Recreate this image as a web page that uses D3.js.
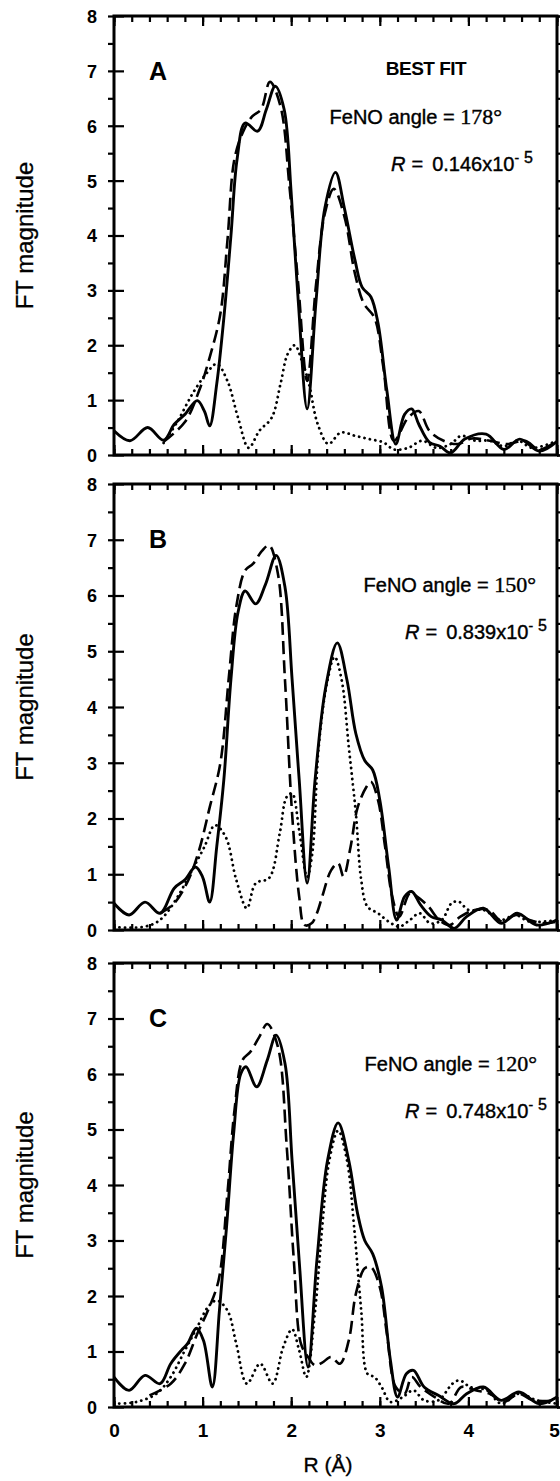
<!DOCTYPE html>
<html>
<head>
<meta charset="utf-8">
<script src="https://cdn.jsdelivr.net/npm/d3@7"></script>
<style>
  body { margin: 0; background: #fff; }
  svg text { font-family: "Liberation Sans", Arial, Helvetica, sans-serif; fill: #000; }
</style>
</head>
<body>
<svg id="chart"></svg>
<script>
// ---- Data: [R (Å), FT magnitude] ----
// Panel A (best fit, FeNO 178°)
const solidA = [[0,0.44],[0.18,0.26],[0.38,0.5],[0.56,0.27],[0.68,0.56],[0.8,0.74],[0.94,0.99],[1.02,0.8],[1.08,0.53],[1.16,1.3],[1.24,2.5],[1.32,4.0],[1.39,5.4],[1.48,6.05],[1.62,5.9],[1.72,6.3],[1.82,6.72],[1.92,6.3],[2.0,4.77],[2.08,2.8],[2.18,0.84],[2.28,2.8],[2.38,4.5],[2.5,5.15],[2.6,4.5],[2.72,3.55],[2.8,3.06],[2.9,2.88],[2.98,2.4],[3.08,1.17],[3.18,0.2],[3.28,0.74],[3.36,0.84],[3.44,0.56],[3.56,0.23],[3.68,0.16],[3.8,0.04],[3.96,0.29],[4.2,0.38],[4.4,0.1],[4.58,0.29],[4.8,0.07],[5.0,0.25]];
const dashA = [[0.56,0.24],[0.8,0.6],[0.96,1.17],[1.08,1.78],[1.2,2.57],[1.28,3.9],[1.36,5.4],[1.46,5.9],[1.56,6.17],[1.66,6.3],[1.76,6.8],[1.88,6.35],[1.98,4.9],[2.08,3.1],[2.18,1.35],[2.28,3.1],[2.38,4.4],[2.48,4.85],[2.6,4.35],[2.72,3.3],[2.82,2.76],[2.94,2.5],[3.04,1.6],[3.16,0.26],[3.32,0.68],[3.44,0.8],[3.56,0.44],[3.72,0.26],[3.88,0.2],[4.04,0.3],[4.24,0.26],[4.44,0.2],[4.64,0.26],[4.8,0.1],[5.0,0.26]];
const dotA = [[0.56,0.22],[0.72,0.62],[0.88,1.1],[1.04,1.48],[1.16,1.66],[1.28,1.35],[1.4,0.68],[1.52,0.13],[1.64,0.44],[1.78,0.68],[1.88,1.3],[1.96,1.84],[2.04,2.0],[2.12,1.72],[2.2,1.3],[2.3,0.56],[2.42,0.2],[2.56,0.41],[2.72,0.35],[2.88,0.29],[3.04,0.23],[3.16,0.1],[3.32,0.13],[3.48,0.26],[3.64,0.13],[3.8,0.2],[3.92,0.35],[4.08,0.26],[4.24,0.26],[4.4,0.16],[4.56,0.26],[4.72,0.13],[5.0,0.26]];

// Panel B (FeNO 150°)
const solidB = [[0,0.48],[0.17,0.27],[0.35,0.5],[0.52,0.3],[0.68,0.75],[0.8,0.9],[0.92,1.13],[1.0,0.95],[1.08,0.5],[1.16,1.5],[1.24,2.7],[1.32,4.5],[1.4,5.7],[1.48,6.08],[1.6,5.85],[1.71,6.2],[1.83,6.72],[1.93,6.15],[2.01,4.5],[2.09,2.7],[2.18,0.84],[2.27,2.7],[2.39,4.36],[2.52,5.15],[2.63,4.48],[2.73,3.52],[2.83,3.04],[2.92,2.87],[3.0,2.33],[3.1,1.13],[3.19,0.18],[3.28,0.6],[3.36,0.69],[3.46,0.45],[3.58,0.24],[3.7,0.18],[3.84,0.03],[3.98,0.24],[4.17,0.39],[4.37,0.12],[4.55,0.3],[4.77,0.09],[5.0,0.18]];
const dashB = [[0.52,0.3],[0.68,0.48],[0.84,0.9],[0.96,1.43],[1.08,2.2],[1.2,2.99],[1.3,4.6],[1.38,5.8],[1.48,6.45],[1.57,6.57],[1.67,6.8],[1.75,6.9],[1.85,6.39],[1.93,4.48],[2.01,2.09],[2.09,0.6],[2.15,0.09],[2.23,0.12],[2.29,0.3],[2.35,0.6],[2.45,1.07],[2.53,1.2],[2.59,0.96],[2.67,1.49],[2.75,2.2],[2.85,2.57],[2.9,2.66],[2.98,2.33],[3.06,1.49],[3.14,0.6],[3.22,0.24],[3.34,0.66],[3.42,0.6],[3.55,0.42],[3.67,0.18],[3.79,0.09],[3.91,0.24],[4.07,0.36],[4.23,0.36],[4.38,0.15],[4.54,0.27],[4.69,0.18],[4.85,0.12],[5.0,0.15]];
const dotB = [[0,0.05],[0.3,0.05],[0.46,0.12],[0.56,0.24],[0.72,0.6],[0.88,1.07],[1.02,1.49],[1.14,1.88],[1.26,1.67],[1.38,0.9],[1.5,0.39],[1.6,0.84],[1.75,0.93],[1.87,1.73],[1.95,2.39],[2.01,2.45],[2.09,1.79],[2.18,0.95],[2.24,1.4],[2.31,3.28],[2.41,4.48],[2.49,4.9],[2.57,4.48],[2.65,3.28],[2.73,2.09],[2.79,0.9],[2.86,0.42],[2.98,0.3],[3.1,0.15],[3.22,0.06],[3.34,0.18],[3.45,0.3],[3.57,0.12],[3.7,0.18],[3.81,0.48],[3.89,0.51],[4.0,0.36],[4.17,0.36],[4.37,0.18],[4.53,0.27],[4.69,0.15],[5.0,0.18]];

// Panel C (FeNO 120°)
const solidC = [[0,0.54],[0.17,0.3],[0.35,0.57],[0.52,0.42],[0.64,0.78],[0.76,1.02],[0.83,1.14],[0.93,1.42],[1.01,1.2],[1.11,0.36],[1.19,1.74],[1.27,3.24],[1.35,4.92],[1.43,6.0],[1.49,6.13],[1.61,5.77],[1.73,6.25],[1.83,6.7],[1.93,6.19],[2.01,4.44],[2.09,2.64],[2.19,0.72],[2.29,2.64],[2.41,4.44],[2.53,5.12],[2.65,4.44],[2.75,3.48],[2.83,3.0],[2.92,2.76],[3.02,2.16],[3.12,0.84],[3.2,0.18],[3.3,0.6],[3.38,0.66],[3.5,0.36],[3.66,0.21],[3.84,0.06],[3.98,0.24],[4.17,0.36],[4.37,0.12],[4.57,0.27],[4.8,0.06],[5.0,0.18]];
const dashC = [[0.4,0.21],[0.64,0.42],[0.8,0.78],[0.94,1.32],[1.06,1.74],[1.18,2.28],[1.28,3.84],[1.36,5.35],[1.45,6.25],[1.54,6.4],[1.64,6.67],[1.73,6.9],[1.85,6.49],[1.95,4.68],[2.03,2.64],[2.11,1.14],[2.19,0.9],[2.27,0.75],[2.35,0.8],[2.45,0.9],[2.55,0.78],[2.65,1.2],[2.73,2.04],[2.83,2.5],[2.9,2.52],[3.0,2.16],[3.08,1.32],[3.18,0.36],[3.28,0.24],[3.36,0.54],[3.46,0.36],[3.62,0.18],[3.78,0.06],[3.92,0.36],[4.08,0.3],[4.24,0.24],[4.4,0.09],[4.57,0.24],[4.73,0.12],[5.0,0.12]];
const dotC = [[0,0.06],[0.25,0.09],[0.48,0.24],[0.64,0.54],[0.8,1.02],[0.94,1.44],[1.06,1.8],[1.16,1.92],[1.28,1.74],[1.38,1.14],[1.5,0.42],[1.65,0.78],[1.79,0.42],[1.91,1.08],[2.01,1.4],[2.09,1.02],[2.17,0.54],[2.27,1.74],[2.35,3.24],[2.43,4.44],[2.53,4.98],[2.63,4.44],[2.71,3.24],[2.79,1.74],[2.86,0.6],[2.94,0.54],[3.02,0.36],[3.12,0.09],[3.26,0.18],[3.38,0.3],[3.5,0.12],[3.66,0.12],[3.82,0.42],[3.9,0.48],[4.02,0.36],[4.21,0.3],[4.37,0.06],[4.57,0.24],[4.77,0.12],[5.0,0.06]];

// Labels
const panelLetters = ["A", "B", "C"];
const angles = ["178", "150", "120"];
const rFactors = ["0.146", "0.839", "0.748"];
const xTicks = [0, 1, 2, 3, 4, 5];
const yTicks = [0, 1, 2, 3, 4, 5, 6, 7, 8];

// ---- Layout ----
const W = 560, H = 1481;
const panelBoxes = [
  { top: 16, bottom: 455, feEnd: 502, rEnd: 533 },
  { top: 484, bottom: 930, feEnd: 536, rEnd: 547 },
  { top: 963, bottom: 1407, feEnd: 537, rEnd: 547 }
];
const series = [
  { solid: solidA, dash: dashA, dot: dotA },
  { solid: solidB, dash: dashB, dot: dotB },
  { solid: solidC, dash: dashC, dot: dotC }
];

const svg = d3.select("#chart")
  .attr("width", W)
  .attr("height", H);

const x = d3.scaleLinear().domain([0, 5]).range([114, 557]);

panelBoxes.forEach((box, i) => {
  const y = d3.scaleLinear().domain([0, 8]).range([box.bottom, box.top]);
  const g = svg.append("g");

  // clip curves to the frame
  const clipId = "clip" + i;
  svg.append("clipPath").attr("id", clipId)
    .append("rect")
    .attr("x", x(0)).attr("y", y(8))
    .attr("width", x(5) - x(0)).attr("height", y(0) - y(8));

  const line = d3.line()
    .x(d => x(d[0]))
    .y(d => y(d[1]))
    .curve(d3.curveCatmullRom.alpha(0.5));

  const curves = g.append("g").attr("clip-path", `url(#${clipId})`);

  // dotted
  curves.append("path")
    .datum(series[i].dot)
    .attr("d", line)
    .attr("fill", "none")
    .attr("stroke", "#000")
    .attr("stroke-width", 2.8)
    .attr("stroke-linecap", "round")
    .attr("stroke-dasharray", "0.1 5.4");

  // dashed (fit)
  curves.append("path")
    .datum(series[i].dash)
    .attr("d", line)
    .attr("fill", "none")
    .attr("stroke", "#000")
    .attr("stroke-width", 2.6)
    .attr("stroke-dasharray", "13 6");

  // solid (data)
  curves.append("path")
    .datum(series[i].solid)
    .attr("d", line)
    .attr("fill", "none")
    .attr("stroke", "#000")
    .attr("stroke-width", 2.9)
    .attr("stroke-linejoin", "round");

  // ticks, all pointing inward
  const minorX = d3.range(0, 5.001, 0.2).map(v => +v.toFixed(1));
  const minorY = d3.range(0, 8.001, 0.5);

  const addAxis = (axis, transform) => {
    const a = g.append("g").attr("transform", transform).call(axis);
    a.select(".domain").remove();
    a.selectAll(".tick line").attr("stroke", "#000").attr("stroke-width", 2.2);
    return a;
  };

  addAxis(d3.axisBottom(x).tickValues(minorX).tickSize(-6).tickFormat(""), `translate(0,${y(0)})`);
  addAxis(d3.axisTop(x).tickValues(minorX).tickSize(-6).tickFormat(""), `translate(0,${y(8)})`);
  addAxis(d3.axisTop(x).tickValues(xTicks).tickSize(-10).tickFormat(""), `translate(0,${y(8)})`);
  const xb = addAxis(d3.axisBottom(x).tickValues(xTicks).tickSize(-10)
    .tickFormat(i === 2 ? d3.format("d") : ""), `translate(0,${y(0)})`);
  xb.selectAll("text")
    .attr("y", 30).attr("dy", 0)
    .attr("x", d => d === 5 ? -3 : 0)
    .style("font-size", "19px").style("font-weight", "bold");

  addAxis(d3.axisRight(y).tickValues(minorY).tickSize(-6).tickFormat(""), `translate(${x(0)},0)`);
  addAxis(d3.axisLeft(y).tickValues(minorY).tickSize(-6).tickFormat(""), `translate(${x(5)},0)`);
  addAxis(d3.axisLeft(y).tickValues(yTicks).tickSize(-10).tickFormat(""), `translate(${x(5)},0)`);
  const yl = addAxis(d3.axisLeft(y).tickValues(yTicks).tickSize(-10).tickFormat(d3.format("d")),
    `translate(${x(0)},0)`);
  yl.selectAll("text")
    .attr("x", -22).attr("dy", "0.36em")
    .attr("text-anchor", "middle")
    .style("font-size", "18px").style("font-weight", "bold");

  // frame
  g.append("rect")
    .attr("x", x(0)).attr("y", y(8))
    .attr("width", x(5) - x(0)).attr("height", y(0) - y(8))
    .attr("fill", "none")
    .attr("stroke", "#000")
    .attr("stroke-width", 3);

  // y axis title
  g.append("text")
    .attr("transform", `translate(33,${(y(0) + y(8)) / 2}) rotate(-90)`)
    .attr("text-anchor", "middle")
    .style("font-size", "24px")
    .style("stroke", "#000").style("stroke-width", 0.3)
    .text("FT magnitude");

  // panel letter
  g.append("text")
    .attr("x", 158).attr("y", box.top + 64)
    .attr("text-anchor", "middle")
    .style("font-size", "25px").style("font-weight", "bold")
    .text(panelLetters[i]);

  if (i === 0) {
    g.append("text")
      .attr("x", 426).attr("y", box.top + 59)
      .attr("text-anchor", "middle")
      .style("font-size", "19px").style("font-weight", "bold")
      .style("letter-spacing", "-0.5px")
      .text("BEST FIT");
  }

  // FeNO angle
  const fe = g.append("text")
    .attr("x", box.feEnd).attr("y", box.top + 108)
    .attr("text-anchor", "end")
    .style("font-size", "20px")
    .style("stroke", "#000").style("stroke-width", 0.4);
  fe.append("tspan").text("FeNO angle = ");
  fe.append("tspan")
    .style("font-family", "'Liberation Serif', 'Times New Roman', serif")
    .style("font-size", "22px")
    .text(angles[i] + "°");

  // R factor
  const rt = g.append("text")
    .attr("x", box.rEnd).attr("y", box.top + 155)
    .attr("text-anchor", "end")
    .style("font-size", "20px")
    .style("stroke", "#000").style("stroke-width", 0.4);
  rt.append("tspan").style("font-style", "italic").text("R");
  rt.append("tspan").attr("dx", 6).text("=");
  rt.append("tspan").attr("dx", 9).text(rFactors[i] + "x10");
  rt.append("tspan").attr("dy", -8).style("font-size", "14px").text("-");
  rt.append("tspan").attr("dx", 5).style("font-size", "16px").text("5");
});

// x axis title
svg.append("text")
  .attr("x", 328).attr("y", 1472)
  .attr("text-anchor", "middle")
  .style("font-size", "21px")
  .style("stroke", "#000").style("stroke-width", 0.3)
  .text("R (Å)");
</script>
</body>
</html>
